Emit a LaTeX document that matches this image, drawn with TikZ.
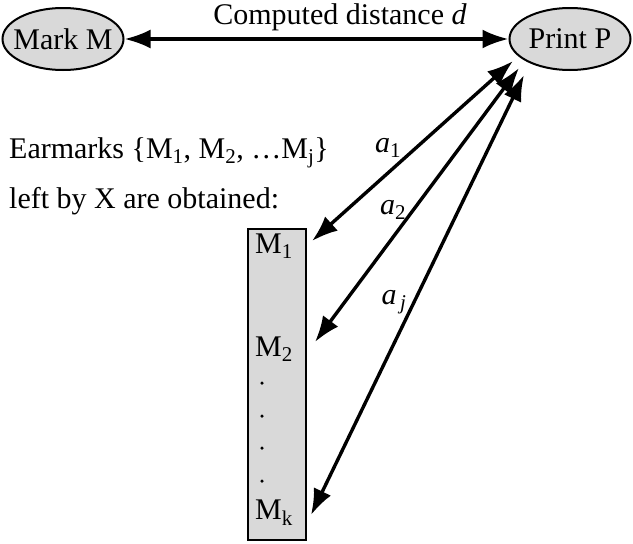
\documentclass[tikz,border=0pt]{standalone}
\usepackage{fontspec}
\setmainfont{Liberation Serif}
\usetikzlibrary{arrows.meta,shapes.geometric}
\begin{document}
\begin{tikzpicture}[x=1pt,y=-1pt,
  oval/.style={ellipse, draw, line width=2pt, fill=gray!30, minimum width=121pt, minimum height=62pt, inner xsep=-8pt, inner ysep=-4pt, font=\fontsize{30}{36}\selectfont},
  conn/.style={line width=3.4pt, {Latex[length=26pt,width=19pt]}-{Latex[length=26pt,width=19pt]}},
  lbl/.style={font=\fontsize{30}{36}\selectfont, inner sep=0pt},
  sub/.style={font=\fontsize{30}{36}\selectfont, inner sep=0pt},
  dotm/.style={circle, fill=black, inner sep=0pt, minimum size=3.5pt},
  ]
\useasboundingbox (0,0) rectangle (633,544);
\node[oval] (M) at (63,39) {Mark M};
\node[oval] (P) at (570,39) {Print P};
\node[lbl] (d) at (340,17) {Computed distance \textit{d}};
\draw[conn] (M) -- (P);
\node[lbl, anchor=west] (e1) at (9,153) {Earmarks \{M\textsubscript{1}, M\textsubscript{2}, \ldots M\textsubscript{j}\}};
\node[lbl, anchor=west] (e2) at (9,201) {left by X are obtained:};
\node[draw, line width=2pt, fill=gray!30, minimum width=58pt, minimum height=311pt, inner sep=0pt] (box) at (277,384.5) {};
\node[sub] (m1) at (274,246) {M\textsubscript{1}};
\node[sub] (m2) at (274,349) {M\textsubscript{2}};
\node[dotm] (d1) at (262,383) {};
\node[dotm] (d2) at (262,416) {};
\node[dotm] (d3) at (262,448) {};
\node[dotm] (d4) at (262,481) {};
\node[sub] (mk) at (274,513) {M\textsubscript{k}};
\coordinate (p1) at (513,61);
\coordinate (p2) at (519,68);
\coordinate (p3) at (524,75);
\coordinate (t1) at (312,241);
\coordinate (t2) at (315,342);
\coordinate (t3) at (311,515);
\draw[conn] (p1) -- (t1);
\draw[conn] (p2) -- (t2);
\draw[conn] (p3) -- (t3);
\node[lbl] (a1) at (388,148) {\textit{a}\textsubscript{1}};
\node[lbl] (a2) at (393,210) {\textit{a}\textsubscript{2}};
\node[lbl] (aj) at (394,302) {\textit{a}\textsubscript{\,\textit{j}}};
\end{tikzpicture}
\end{document}
